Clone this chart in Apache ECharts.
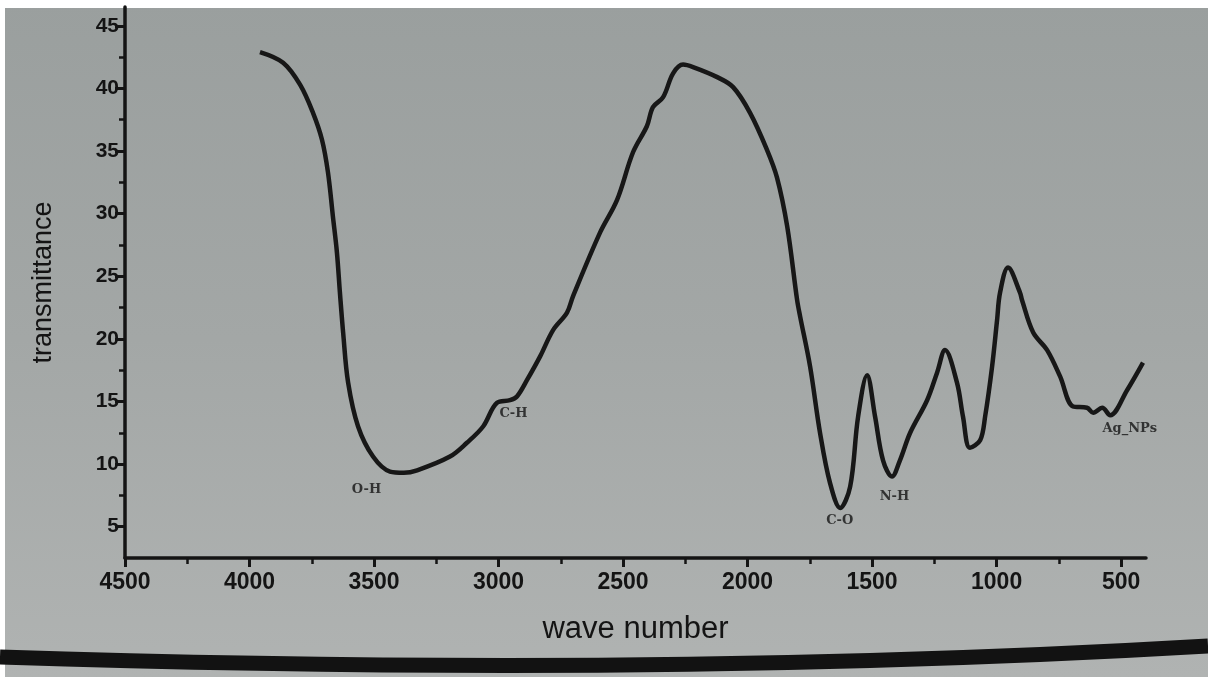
<!DOCTYPE html>
<html>
<head>
<meta charset="utf-8">
<script src="https://cdn.jsdelivr.net/npm/echarts@6/dist/echarts.min.js"></script>
<style>
html,body{margin:0;padding:0;background:#ffffff;}
#chart{width:1208px;height:677px;background:linear-gradient(180deg,#9a9f9e 0%,#a3a7a6 50%,#b0b3b2 100%);}
</style>
</head>
<body>
<div id="chart"></div>
<script>
// FTIR spectrum
var waveNumber = [3958,3865,3797,3745,3709,3685,3665,3649,3637,3624,3604,3564,3504,3436,3380,3327,3195,3127,3062,3006,2954,2926,2886,2833,2781,2725,2701,2592,2524,2460,2404,2380,2339,2299,2259,2219,2122,2058,1990,1922,1882,1841,1801,1789,1749,1709,1669,1628,1588,1556,1520,1488,1456,1420,1388,1347,1279,1239,1207,1159,1135,1107,1066,1046,1018,998,986,954,906,898,853,797,745,693,637,612,576,544,476,412];
var transmittance = [42.9,42.05,40.3,38.05,35.9,33.3,29.75,26.9,23.7,20.5,16.5,13.0,10.6,9.4,9.3,9.5,10.6,11.7,13.0,14.9,15.1,15.4,16.7,18.6,20.7,22.1,23.4,28.5,31.1,34.9,37.0,38.5,39.3,41.2,41.9,41.7,40.9,40.1,38.05,35.1,32.9,29.0,23.1,21.8,17.8,12.5,8.5,6.5,8.2,13.8,17.1,13.8,10.3,9.0,10.3,12.5,15.1,17.3,19.1,16.5,13.8,11.3,11.9,13.8,17.8,21.5,23.7,25.7,23.7,23.1,20.5,19.1,17.0,14.6,14.5,14.1,14.5,13.9,15.9,18.1];

var annText = ['O-H','C-H','C-O','N-H','Ag_NPs'];
var annX = [3530,2940,1630,1410,465];
var annY = [8.0,14.0,5.5,7.4,12.8];

var xMajorTicks = [4500,4000,3500,3000,2500,2000,1500,1000,500];
var xMinorTicks = [4250,3750,3250,2750,2250,1750,1250,750];
var yMajorTicks = [5,10,15,20,25,30,35,40,45];
var yMinorTicks = [7.5,12.5,17.5,22.5,27.5,32.5,37.5,42.5];

var lineData = waveNumber.map(function(x,i){return [x, transmittance[i]];});
var annData = annX.map(function(x,i){return {value:[x, annY[i]], name: annText[i]};});

var chart = echarts.init(document.getElementById('chart'), null, {renderer:'canvas'});
var ink = '#141414';
var font = 'Liberation Sans, Arial, sans-serif';
function plain(v){ return String(v); }
chart.setOption({
  animation:false,
  backgroundColor:'transparent',
  grid:{left:125, right:62, top:7, bottom:119, outerBoundsMode:'none'},
  xAxis:[{
    type:'value', inverse:true, min:400, max:4500, position:'bottom',
    axisLine:{show:true, lineStyle:{color:ink, width:3.5}},
    axisTick:{show:true, customValues:xMajorTicks, length:9, lineStyle:{color:ink, width:3}},
    axisLabel:{customValues:xMajorTicks, formatter:plain, color:ink, fontFamily:font, fontWeight:'bold', fontSize:23, margin:13},
    splitLine:{show:false},
    name:'wave number', nameLocation:'middle', nameGap:56,
    nameTextStyle:{color:ink, fontFamily:font, fontSize:31}
  },{
    type:'value', inverse:true, min:400, max:4500, position:'bottom', offset:0,
    axisLine:{show:false},
    axisTick:{show:true, customValues:xMinorTicks, length:6, lineStyle:{color:ink, width:2.5}},
    axisLabel:{show:false},
    splitLine:{show:false}
  }],
  yAxis:[{
    type:'value', min:2.5, max:46.5, position:'left',
    axisLine:{show:true, lineStyle:{color:ink, width:3.5}},
    axisTick:{show:true, customValues:yMajorTicks, length:10, lineStyle:{color:ink, width:3}},
    axisLabel:{customValues:yMajorTicks, formatter:plain, color:ink, fontFamily:font, fontWeight:'bold', fontSize:21, margin:6},
    splitLine:{show:false},
    name:'transmittance', nameLocation:'middle', nameGap:68, nameRotate:90,
    nameTextStyle:{color:ink, fontFamily:font, fontSize:27}
  },{
    type:'value', min:2.5, max:46.5, position:'left', offset:0,
    axisLine:{show:false},
    axisTick:{show:true, customValues:yMinorTicks, length:6, lineStyle:{color:ink, width:2.5}},
    axisLabel:{show:false},
    splitLine:{show:false}
  }],
  series:[{
    type:'line', xAxisIndex:0, yAxisIndex:0, data:lineData, symbol:'none', smooth:0.35,
    lineStyle:{color:'#171717', width:4.5}, silent:true, z:3
  },{
    type:'scatter', xAxisIndex:0, yAxisIndex:0, data:annData, symbolSize:0, silent:true,
    label:{show:true, position:'inside', formatter:'{b}', color:ink, fontFamily:'DejaVu Serif, serif', fontWeight:'bold', fontSize:13}
  }],
  graphic:[
    {type:'rect', left:0, top:0, shape:{width:1208, height:8}, style:{fill:'#ffffff'}, z:-1},
    {type:'rect', left:0, top:0, shape:{width:5, height:677}, style:{fill:'#ffffff'}, z:-1},
    {type:'bezierCurve', shape:{x1:0, y1:657, cpx1:400, cpy1:670, cpx2:800, cpy2:670, x2:1208, y2:646},
     style:{stroke:'#121212', lineWidth:15, fill:null}, z:-1}
  ]
});
</script>
</body>
</html>
